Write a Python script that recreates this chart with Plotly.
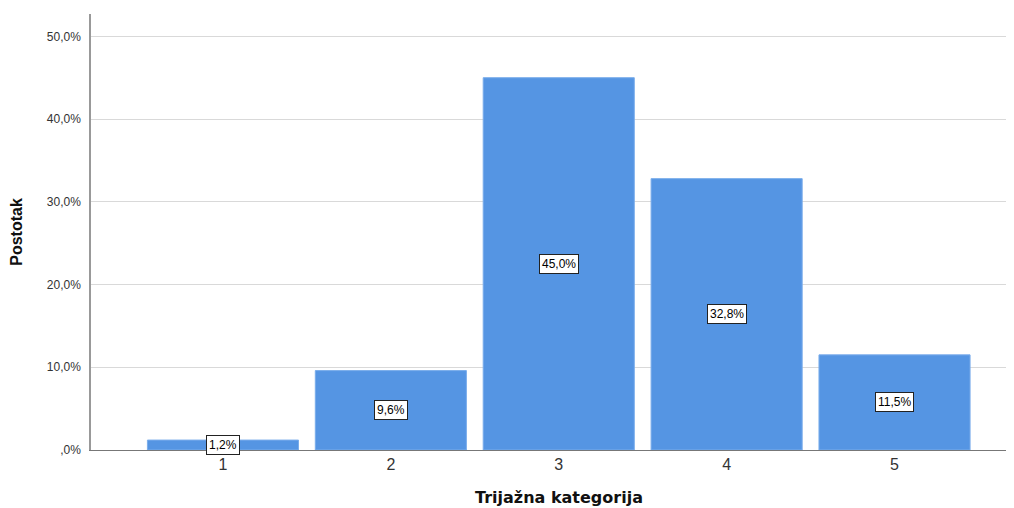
import plotly.graph_objects as go

categories = ["1", "2", "3", "4", "5"]
values = [1.2, 9.6, 45.0, 32.8, 11.5]
labels = ["1,2%", "9,6%", "45,0%", "32,8%", "11,5%"]
ytick_vals = [0, 10, 20, 30, 40, 50]
ytick_text = [",0%", "10,0%", "20,0%", "30,0%", "40,0%", "50,0%"]

xpos = list(range(1, len(categories) + 1))

fig = go.Figure()
fig.add_trace(go.Bar(
    x=xpos, y=values, width=0.9,
    marker=dict(color="#5595E3", line=dict(color="#7AADEB", width=1)),
    hoverinfo="skip",
))

for x, v, t in zip(xpos, values, labels):
    fig.add_annotation(
        x=x, y=v / 2, text=t, showarrow=False,
        font=dict(family="Liberation Sans, Arial", size=12, color="#000"),
        bgcolor="white", bordercolor="#222", borderwidth=1, borderpad=2,
    )

# x-axis title (placed slightly right of centre, as in the reference)
fig.add_annotation(
    xref="paper", yref="paper", x=0.5115, y=0, yanchor="middle", yshift=-47,
    text="Trijažna kategorija", showarrow=False,
    font=dict(family="DejaVu Sans", size=16, color="#111", weight="bold"),
)

fig.update_layout(
    width=1014, height=508,
    margin=dict(l=83, r=16, t=6, b=66),
    plot_bgcolor="white", paper_bgcolor="white",
    showlegend=False,
    font=dict(family="Liberation Sans, Arial", color="#333"),
)
fig.update_xaxes(
    range=[0.214, 5.664], tickvals=xpos, ticktext=categories,
    tickfont=dict(size=16, color="#333"),
    showgrid=False, showline=True, linecolor="#777", linewidth=1,
    ticks="", zeroline=False,
)
fig.update_yaxes(
    range=[0, 52.7], tickvals=ytick_vals, ticktext=ytick_text,
    tickfont=dict(size=12, color="#333"),
    showgrid=True, gridcolor="#d9d9d9", gridwidth=1,
    showline=True, linecolor="#999", linewidth=1.5,
    ticks="", zeroline=False, ticklabelstandoff=6,
    title=dict(text="Postotak", font=dict(size=16, color="#111", weight="bold"), standoff=20),
)

fig.write_html("out.html")
